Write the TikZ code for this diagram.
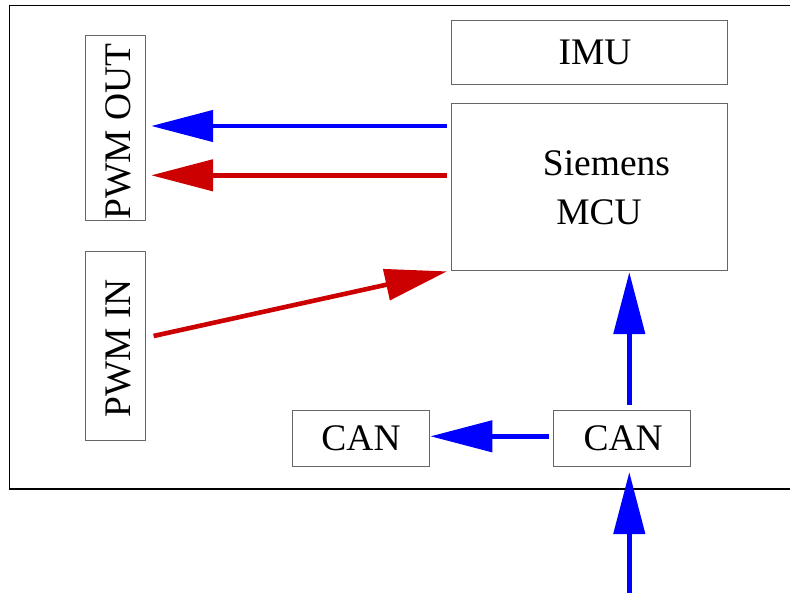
\documentclass[tikz,border=0pt]{standalone}
\usepackage{fontspec}
\setmainfont{Liberation Serif}
\usetikzlibrary{arrows.meta}
\definecolor{fred}{RGB}{204,0,0}
\definecolor{fblue}{RGB}{0,0,255}
\begin{document}
\begin{tikzpicture}[x=1pt,y=-1pt,
  bigfont/.style={font=\fontsize{37.5}{48.6}\selectfont},
  box/.style={draw=black!60, line width=0.9pt, inner sep=0pt, bigfont},
  conn/.style={line width=4.6pt, -{Triangle[length=62pt,width=31pt]}},
  bconn/.style={conn, draw=fblue, fill=fblue},
  rconn/.style={conn, draw=fred, fill=fred}]
\useasboundingbox (0,0) rectangle (790,592);
\draw[line width=1.1pt] (9.3,5.3) rectangle (800,489);
% boxes
\node[box, rotate=90, minimum width=185.4pt, minimum height=60.3pt] (pwmout) at (115.2,128) {\raisebox{-15pt}[0pt][0pt]{\hspace*{-7pt}PWM OUT}};
\node[box, rotate=90, minimum width=189.3pt, minimum height=60.3pt] (pwmin) at (115.2,345.7) {\raisebox{-15pt}[0pt][0pt]{\hspace*{-5.4pt}PWM IN}};
\node[box, minimum width=276.4pt, minimum height=64pt] (imu) at (589.5,52.7) {\hspace*{11pt}IMU};
\node[box, minimum width=276.4pt, minimum height=166.3pt,
  label={[bigfont, align=center, xshift=9.5pt, yshift=-1pt]center:\hspace*{15pt}Siemens\\MCU}] (mcu) at (589.5,186.9) {};
\node[box, minimum width=136.6pt, minimum height=56.7pt] (canl) at (361,438.3) {CAN};
\node[box, minimum width=136.7pt, minimum height=56.7pt] (canr) at (621.7,438.3) {\hspace*{3pt}CAN};
\coordinate (ext) at (629.3,600);
% connectors
\draw[bconn, shorten <=4.3pt, shorten >=5.4pt] (mcu.west |- 0,126) -- (pwmout.south |- 0,126);
\draw[rconn, shorten <=4.3pt, shorten >=5.4pt] (mcu.west |- 0,175.3) -- (pwmout.south |- 0,175.3);
\draw[rconn, shorten <=8pt, shorten >=4pt] (pwmin.south |- 0,337.7) -- (mcu.south west);
\draw[bconn, shorten <=4.3pt, shorten >=1.7pt] ([xshift=7.6pt]canr.north) -- ([xshift=7.6pt]canr.north |- mcu.south);
\draw[bconn, shorten <=3.6pt, shorten >=0.7pt] ([yshift=2pt]canr.west) -- ([yshift=2pt]canl.east);
\draw[bconn, shorten >=5pt] (ext) -- ([xshift=7.6pt]canr.south);
\end{tikzpicture}
\end{document}
